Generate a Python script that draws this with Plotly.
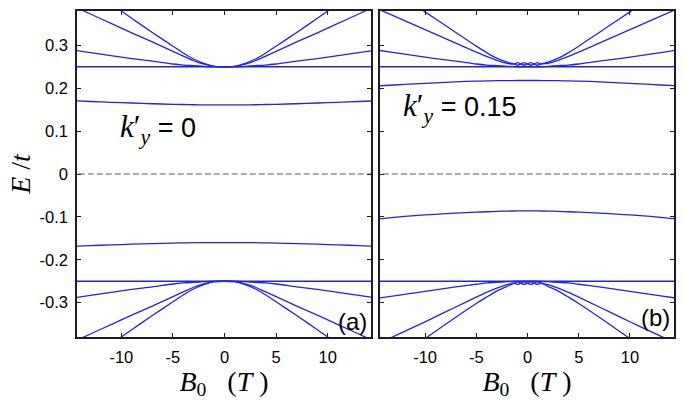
import plotly.graph_objects as go

# ---------------- data ----------------
B_GRID = [-15, -13, -11, -9, -7, -5, -4, -3, -2, -1, 0, 1, 2, 3, 4, 5, 7, 9, 11, 13, 15]
B_LOOP = [-15, -13, -11, -9, -7, -5, -4, -3, -2, -1.3, -0.975, -0.65, -0.325, 0,
          0.325, 0.65, 0.975, 1.3, 2, 3, 4, 5, 7, 9, 11, 13, 15]

# panel (a): k'_y = 0
a_flat_up = [0.25] * 21
a_band_up = [0.171, 0.169, 0.1672, 0.1655, 0.1638, 0.1625, 0.162, 0.1615, 0.1612, 0.161, 0.161,
             0.161, 0.1612, 0.1615, 0.162, 0.1625, 0.1638, 0.1655, 0.1672, 0.169, 0.171]
a_A_up = [0.290, 0.283, 0.276, 0.269, 0.263, 0.2565, 0.254, 0.2525, 0.251, 0.250, 0.250,
          0.250, 0.251, 0.2525, 0.254, 0.2565, 0.263, 0.269, 0.276, 0.283, 0.290]
a_B_up = [0.395, 0.373, 0.351, 0.329, 0.308, 0.286, 0.275, 0.264, 0.256, 0.251, 0.250,
          0.251, 0.256, 0.264, 0.275, 0.286, 0.308, 0.329, 0.351, 0.373, 0.395]
a_C_up = [0.465, 0.431, 0.397, 0.363, 0.330, 0.298, 0.282, 0.268, 0.258, 0.251, 0.250,
          0.251, 0.258, 0.268, 0.282, 0.298, 0.330, 0.363, 0.397, 0.431, 0.465]
a_flat_dn = [-0.25] * 21
a_band_dn = [-0.169, -0.167, -0.1652, -0.1637, -0.1622, -0.161, -0.1605, -0.1602, -0.160, -0.160, -0.160,
             -0.160, -0.160, -0.1602, -0.1605, -0.161, -0.1622, -0.1637, -0.1652, -0.167, -0.169]
a_A_dn = [-0.290, -0.283, -0.276, -0.269, -0.263, -0.2565, -0.254, -0.2525, -0.251, -0.250, -0.250,
          -0.250, -0.251, -0.2525, -0.254, -0.2565, -0.263, -0.269, -0.276, -0.283, -0.290]
a_B_dn = [-0.395, -0.373, -0.351, -0.329, -0.308, -0.286, -0.275, -0.264, -0.256, -0.251, -0.250,
          -0.251, -0.256, -0.264, -0.275, -0.286, -0.308, -0.329, -0.351, -0.373, -0.395]
a_C_dn = [-0.465, -0.431, -0.397, -0.363, -0.330, -0.298, -0.282, -0.268, -0.258, -0.251, -0.250,
          -0.251, -0.258, -0.268, -0.282, -0.298, -0.330, -0.363, -0.397, -0.431, -0.465]

# panel (b): k'_y = 0.15
b_flat_up = [0.25] * 21
b_band_up = [0.205, 0.2075, 0.210, 0.2125, 0.215, 0.2165, 0.217, 0.2175, 0.2178, 0.218, 0.218,
             0.218, 0.2178, 0.2175, 0.217, 0.2165, 0.215, 0.2125, 0.210, 0.2075, 0.205]
b_A_up = [0.290, 0.283, 0.276, 0.269, 0.263, 0.2565, 0.254, 0.2525, 0.251, 0.250, 0.250,
          0.250, 0.251, 0.2525, 0.254, 0.2565, 0.263, 0.269, 0.276, 0.283, 0.290]
b_B_up = [0.389, 0.368, 0.347, 0.326, 0.305, 0.284, 0.274, 0.265, 0.258,
          0.2565, 0.2595, 0.2565, 0.2535, 0.2565, 0.2595, 0.2565, 0.2535, 0.2565,
          0.258, 0.265, 0.274, 0.284, 0.305, 0.326, 0.347, 0.368, 0.389]
b_C_up = [0.458, 0.426, 0.394, 0.362, 0.330, 0.298, 0.283, 0.270, 0.261,
          0.2565, 0.2535, 0.2565, 0.2595, 0.2565, 0.2535, 0.2565, 0.2595, 0.2565,
          0.261, 0.270, 0.283, 0.298, 0.330, 0.362, 0.394, 0.426, 0.458]
b_flat_dn = [-0.25] * 21
b_band_dn = [-0.106, -0.101, -0.097, -0.094, -0.091, -0.089, -0.088, -0.087, -0.0865, -0.086, -0.086,
             -0.086, -0.0865, -0.087, -0.088, -0.089, -0.091, -0.094, -0.097, -0.101, -0.106]
b_A_dn = [-0.291, -0.284, -0.277, -0.270, -0.263, -0.257, -0.254, -0.2525, -0.251, -0.250, -0.250,
          -0.250, -0.251, -0.2525, -0.254, -0.257, -0.263, -0.270, -0.277, -0.284, -0.291]
b_B_dn = [-0.400, -0.378, -0.356, -0.333, -0.310, -0.287, -0.276, -0.266, -0.258,
          -0.2545, -0.2575, -0.2545, -0.2515, -0.2545, -0.2575, -0.2545, -0.2515, -0.2545,
          -0.258, -0.266, -0.276, -0.287, -0.310, -0.333, -0.356, -0.378, -0.400]
b_C_dn = [-0.466, -0.433, -0.400, -0.367, -0.334, -0.302, -0.287, -0.273, -0.262,
          -0.2545, -0.2515, -0.2545, -0.2575, -0.2545, -0.2515, -0.2545, -0.2575, -0.2545,
          -0.262, -0.273, -0.287, -0.302, -0.334, -0.367, -0.400, -0.433, -0.466]

ZERO_X = [-15, 15]
ZERO_Y = [0, 0]

X_TICKS = [-10, -5, 0, 5, 10]
X_TICKTEXT = ["-10", "-5", "0", "5", "10"]
Y_TICKS = [-0.3, -0.2, -0.1, 0, 0.1, 0.2, 0.3]
Y_TICKTEXT = ["-0.3", "-0.2", "-0.1", "0", "0.1", "0.2", "0.3"]

# ---------------- figure ----------------
BLUE = "rgb(35,35,225)"
fig = go.Figure()


def add_line(x, y, xa, ya):
    fig.add_trace(go.Scatter(x=x, y=y, mode="lines", xaxis=xa, yaxis=ya,
                             line=dict(color=BLUE, width=1.3, shape="spline", smoothing=0.8),
                             showlegend=False, hoverinfo="skip"))


for xa, ya in (("x", "y"), ("x2", "y2")):
    fig.add_trace(go.Scatter(x=ZERO_X, y=ZERO_Y, mode="lines", xaxis=xa, yaxis=ya,
                             line=dict(color="rgb(90,90,90)", width=1.2, dash="6px,3px"),
                             showlegend=False, hoverinfo="skip"))

for ys in (a_flat_up, a_band_up, a_A_up, a_B_up, a_C_up,
           a_flat_dn, a_band_dn, a_A_dn, a_B_dn, a_C_dn):
    add_line(B_GRID, ys, "x", "y")

for ys in (b_flat_up, b_band_up, b_A_up, b_flat_dn, b_band_dn, b_A_dn):
    add_line(B_GRID, ys, "x2", "y2")
for ys in (b_B_up, b_C_up, b_B_dn, b_C_dn):
    add_line(B_LOOP, ys, "x2", "y2")

TICKFONT = dict(family="Liberation Sans, Arial", size=16.5, color="black")
axis_common = dict(showline=True, linecolor="rgb(30,30,30)", linewidth=1.5, mirror="allticks",
                   ticks="inside", ticklen=4, tickwidth=1.2, tickcolor="rgb(30,30,30)",
                   showgrid=False, zeroline=False, tickfont=TICKFONT)
TITLEFONT = dict(family="Liberation Serif, DejaVu Serif", size=28, color="black")
XTITLE = "<i>B</i><sub>0</sub>&nbsp;&nbsp;&nbsp;(<i>T</i>&nbsp;)"

fig.update_layout(
    width=685, height=404,
    margin=dict(l=77, r=9, t=10, b=67),
    paper_bgcolor="white", plot_bgcolor="white",
    xaxis=dict(domain=[0, 0.4925], range=[-14.3, 14.2], tickvals=X_TICKS, ticktext=X_TICKTEXT,
               anchor="y", title=dict(text=XTITLE, font=TITLEFONT, standoff=0),
               ticklabelstandoff=4, **axis_common),
    xaxis2=dict(domain=[0.5075, 1], range=[-14.4, 14.3], tickvals=X_TICKS, ticktext=X_TICKTEXT,
                anchor="y2", title=dict(text=XTITLE, font=TITLEFONT, standoff=0),
                ticklabelstandoff=4, **axis_common),
    yaxis=dict(domain=[0, 1], range=[-0.38, 0.38], tickvals=Y_TICKS, ticktext=Y_TICKTEXT,
               anchor="x", title=dict(text="<i>E</i>&nbsp;/<i>t</i>", font=TITLEFONT, standoff=1),
               ticklabelstandoff=4, **axis_common),
    yaxis2=dict(domain=[0, 1], range=[-0.38, 0.38], tickvals=Y_TICKS, showticklabels=False,
                anchor="x2", **axis_common),
)

SERIF = "font-family:Liberation Serif, DejaVu Serif;font-size:31px"
ANN_FONT = dict(family="Liberation Sans, Arial", size=27, color="black")
fig.add_annotation(x=-10.3, y=0.104, xref="x", yref="y", xanchor="left", yanchor="middle", showarrow=False,
                   text=f"<span style='{SERIF}'><i>k</i>′<sub><i>y</i></sub></span> = 0", font=ANN_FONT)
fig.add_annotation(x=-12.3, y=0.155, xref="x2", yref="y2", xanchor="left", yanchor="middle", showarrow=False,
                   text=f"<span style='{SERIF}'><i>k</i>′<sub><i>y</i></sub></span> = 0.15", font=ANN_FONT)
fig.add_annotation(x=14.0, y=-0.344, xref="x", yref="y", xanchor="right", yanchor="middle", showarrow=False,
                   text="(a)", font=dict(family="Liberation Sans, Arial", size=24, color="black"))
fig.add_annotation(x=14.1, y=-0.335, xref="x2", yref="y2", xanchor="right", yanchor="middle", showarrow=False,
                   text="(b)", font=dict(family="Liberation Sans, Arial", size=24, color="black"))

fig.write_html("out.html", config={"displayModeBar": False},
               post_script="document.body.style.margin='0';document.body.style.padding='0';"
                           "document.documentElement.style.overflow='hidden';")
